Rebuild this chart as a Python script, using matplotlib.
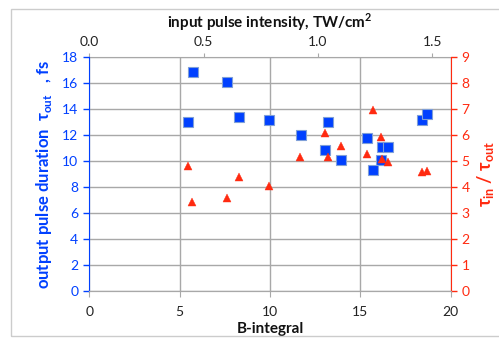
import matplotlib.pyplot as plt
from matplotlib.patches import Rectangle

plt.rcParams['font.family'] = ['Lato', 'DejaVu Sans']
plt.rcParams['mathtext.fontset'] = 'custom'
plt.rcParams['mathtext.rm'] = 'Lato'

# B-integral of each shot
b_int = [5.72, 5.46, 7.62, 8.27, 9.94, 11.72, 13.21, 13.03, 13.95, 15.35,
         16.18, 16.55, 16.14, 15.70, 18.39, 18.67]
# output pulse duration, fs (blue squares)
tau_out = [16.86, 13.0, 16.09, 13.39, 13.19, 12.03, 13.0, 10.85, 10.08, 11.8,
           11.08, 11.08, 10.08, 9.31, 13.16, 13.6]

# compression ratio (red triangles)
b_ratio = [5.48, 5.68, 7.62, 8.27, 9.94, 11.68, 13.03, 13.21, 13.95, 15.35,
           15.68, 16.13, 16.2, 16.51, 18.39, 18.67]
ratio = [4.81, 3.42, 3.57, 4.38, 4.04, 5.15, 6.07, 5.17, 5.59, 5.28,
         6.97, 5.93, 5.08, 4.96, 4.58, 4.60]

# intensity (TW/cm2) per unit B-integral
k = 0.079

blue = '#0040ff'
red = '#ff2a10'
grid = '#a8a8a8'

fig = plt.figure(figsize=(4.99, 3.38), dpi=100)
fig.patches.append(Rectangle((11/499, 2/338), 0.99, 327/338, transform=fig.transFigure,
                             fill=False, edgecolor='#cccccc', lw=1))
ax = fig.add_axes([0.179, 0.14, 0.724, 0.690])
ax2 = ax.twinx()

ax.set_xlim(0, 20)
ax.set_ylim(0, 18)
ax.set_xticks([0, 5, 10, 15, 20])
ax.set_yticks(range(0, 19, 2))
ax2.set_ylim(0, 9)
ax2.set_yticks(range(0, 10))

ax.grid(True, color=grid, lw=1)
ax.set_axisbelow(True)

ax.plot(b_int, tau_out, 's', color=blue, ms=6.5, mec='#7f9fd8', mew=0.8, zorder=4)
ax2.plot(b_ratio, ratio, '^', color=red, ms=5.5, mec=red, mew=0.3, zorder=3)

for a in (ax, ax2):
    a.spines['top'].set_visible(False)
    a.spines['bottom'].set_color(grid)
ax.spines['left'].set_color(blue)
ax.spines['right'].set_visible(False)
ax2.spines['left'].set_visible(False)
ax2.spines['right'].set_color(red)

ax.tick_params(axis='y', colors=blue, labelsize=10, length=4, width=1, pad=4)
ax.tick_params(axis='x', colors=grid, labelcolor='#222222', labelsize=10, length=4, pad=7)
ax2.tick_params(axis='y', colors=red, labelsize=10, length=4, width=1, pad=4)

top = ax.secondary_xaxis('top', functions=(lambda b: b * k, lambda i: i / k))
top.set_xticks([0.0, 0.5, 1.0, 1.5])
top.set_xticklabels(['0.0', '0.5', '1.0', '1.5'])
top.spines['top'].set_color(grid)
top.tick_params(colors=grid, labelcolor='#222222', labelsize=10, length=3, pad=4)
top.set_xlabel('input pulse intensity, TW/cm$^\\mathregular{2}$', fontsize=11,
               fontweight='bold', color='#111111', labelpad=6)

ax.set_xlabel('B-integral', fontsize=11, fontweight='bold', color='#111111', labelpad=3)
ax.set_ylabel('output pulse duration  τ$_\\mathregular{out}$   , fs', fontsize=12,
              fontweight='bold', color=blue, labelpad=6)
ax2.set_ylabel('τ$_\\mathregular{in}$ / τ$_\\mathregular{out}$', fontsize=13,
               fontweight='bold', color=red, labelpad=4)

fig.savefig('out.png', dpi=100)
